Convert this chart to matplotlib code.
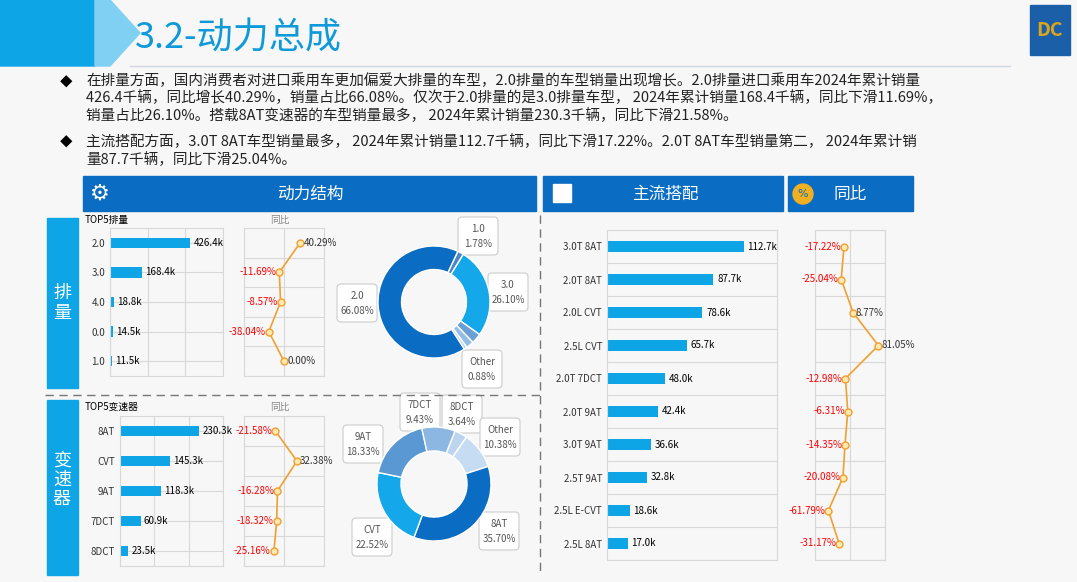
import matplotlib
matplotlib.use("Agg")
import matplotlib.pyplot as plt
from matplotlib import font_manager as fm
from matplotlib.patches import Rectangle, Polygon, FancyBboxPatch
import numpy as np

cjk = "Noto Sans CJK SC"
for f in fm.findSystemFonts():
    if "CJK" in f or "cjk" in f.lower():
        try:
            fm.fontManager.addfont(f)
        except Exception:
            pass
names = {f.name for f in fm.fontManager.ttflist}
for cand in ["Noto Sans CJK SC", "Noto Sans CJK JP", "Noto Sans CJK TC", "Noto Sans CJK KR"]:
    if cand in names:
        cjk = cand
        break
plt.rcParams["font.family"] = [cjk, "DejaVu Sans"]

disp_cats = ["2.0", "3.0", "4.0", "0.0", "1.0"]
disp_vals = [426.4, 168.4, 18.8, 14.5, 11.5]
disp_yoy = [40.29, -11.69, -8.57, -38.04, 0.00]
disp_pie_labels = ["1.0", "3.0", "4.0", "0.0", "Other", "2.0"]
disp_pie_vals = [1.78, 26.10, 2.91, 2.25, 0.88, 66.08]

tr_cats = ["8AT", "CVT", "9AT", "7DCT", "8DCT"]
tr_vals = [230.3, 145.3, 118.3, 60.9, 23.5]
tr_yoy = [-21.58, 32.38, -16.28, -18.32, -25.16]
tr_pie_labels = ["8DCT", "Other", "8AT", "CVT", "9AT", "7DCT"]
tr_pie_vals = [3.64, 10.38, 35.70, 22.52, 18.33, 9.43]

main_cats = ["3.0T 8AT", "2.0T 8AT", "2.0L CVT", "2.5L CVT", "2.0T 7DCT", "2.0T 9AT",
             "3.0T 9AT", "2.5T 9AT", "2.5L E-CVT", "2.5L 8AT"]
main_vals = [112.7, 87.7, 78.6, 65.7, 48.0, 42.4, 36.6, 32.8, 18.6, 17.0]
main_yoy = [-17.22, -25.04, 8.77, 81.05, -12.98, -6.31, -14.35, -20.08, -61.79, -31.17]

W, H = 1077, 582
fig = plt.figure(figsize=(W/100, H/100), dpi=100)
fig.patch.set_facecolor("#f7f7f8")
bg = fig.add_axes([0, 0, 1, 1]); bg.set_xlim(0, W); bg.set_ylim(H, 0); bg.axis("off")

BLUE = "#0a6cc2"; CYAN = "#0ea5e6"; ORANGE = "#f0a030"

bg.add_patch(Polygon([[0, 0], [95, 0], [125, 33], [95, 66], [0, 66]], color="#0ea5e6"))
bg.add_patch(Polygon([[95, 0], [110, 0], [140, 33], [110, 66], [95, 66]], color="#7fd0f2"))
bg.text(135, 38, "3.2-动力总成", fontsize=26, color="#0e9ad8", va="center")
bg.plot([130, 1010], [66, 66], color="#cfd8e0", lw=1)
bg.add_patch(Rectangle((1030, 5), 40, 50, color="#1b5fa8"))
bg.text(1050, 30, "DC", color="#d9a520", fontsize=14, ha="center", va="center", weight="bold")

txt1 = ("在排量方面，国内消费者对进口乘用车更加偏爱大排量的车型，2.0排量的车型销量出现增长。2.0排量进口乘用车2024年累计销量\n"
        "426.4千辆，同比增长40.29%，销量占比66.08%。仅次于2.0排量的是3.0排量车型， 2024年累计销量168.4千辆，同比下滑11.69%，\n"
        "销量占比26.10%。搭载8AT变速器的车型销量最多， 2024年累计销量230.3千辆，同比下滑21.58%。")
txt2 = ("主流搭配方面，3.0T 8AT车型销量最多， 2024年累计销量112.7千辆，同比下滑17.22%。2.0T 8AT车型销量第二， 2024年累计销\n"
        "量87.7千辆，同比下滑25.04%。")
bg.text(60, 83, "◆", fontsize=9, va="center"); bg.text(60, 143, "◆", fontsize=9, va="center")
bg.text(86, 73, txt1, fontsize=10.5, va="top", linespacing=1.25, color="#222")
bg.text(86, 134, txt2, fontsize=10.5, va="top", linespacing=1.25, color="#222")

bg.add_patch(Rectangle((83, 176), 453, 35, color=BLUE))
bg.text(310, 194, "动力结构", color="white", fontsize=12, ha="center", va="center")
bg.text(100, 194, "⚙", color="white", fontsize=16, ha="center", va="center", family="DejaVu Sans")
bg.add_patch(Rectangle((543, 176), 240, 35, color=BLUE))
bg.text(665, 194, "主流搭配", color="white", fontsize=12, ha="center", va="center")
bg.add_patch(Rectangle((553, 184), 18, 18, color="white"))
bg.add_patch(Rectangle((788, 176), 125, 35, color=BLUE))
bg.text(850, 194, "同比", color="white", fontsize=12, ha="center", va="center")
bg.add_patch(plt.Circle((803, 194), 10, color="#f0b020"))
bg.text(803, 194, "%", color=BLUE, fontsize=8, ha="center", va="center", family="DejaVu Sans")

bg.add_patch(Rectangle((47, 218), 31, 170, color=CYAN))
bg.text(62, 303, "排\n量", color="white", fontsize=13, ha="center", va="center", linespacing=1.1)
bg.add_patch(Rectangle((47, 400), 31, 175, color=CYAN))
bg.text(62, 480, "变\n速\n器", color="white", fontsize=13, ha="center", va="center", linespacing=1.1)
bg.plot([45, 540], [395, 395], color="#777", lw=1, ls=(0, (6, 4)))
bg.plot([540, 540], [215, 575], color="#777", lw=1, ls=(0, (6, 4)))
bg.text(85, 220, "TOP5排量", fontsize=7, va="center")
bg.text(85, 407, "TOP5变速器", fontsize=7, va="center")
bg.text(270, 220, "同比", fontsize=7, va="center", color="#888")
bg.text(270, 407, "同比", fontsize=7, va="center", color="#888")

def px(x0, y0, w, h):
    return fig.add_axes([x0/W, 1-(y0+h)/H, w/W, h/H])

def barpanel(rect, cats, vals, xmax, ngrid):
    ax = px(*rect)
    y = np.arange(len(cats))
    ax.barh(y, vals, height=0.35, color=CYAN)
    for yi, v in zip(y, vals):
        ax.text(v + xmax*0.03, yi, f"{v}k", fontsize=7, va="center")
    ax.set_ylim(len(cats)-0.5, -0.5); ax.set_xlim(0, xmax)
    ax.set_yticks(y); ax.set_yticklabels(cats, fontsize=7, color="#333")
    ax.set_xticks(np.linspace(0, xmax, ngrid+1)); ax.set_xticklabels([])
    ax.tick_params(length=0)
    ax.grid(True, color="#d8d8d8", lw=0.8); ax.set_axisbelow(True)
    ax.set_facecolor("none")
    for s in ax.spines.values(): s.set_color("#d8d8d8")
    return ax

def linepanel(rect, vals, xlim):
    ax = px(*rect)
    y = np.arange(len(vals))
    ax.plot(vals, y, color=ORANGE, lw=1.2, marker="o", ms=5, mfc="#ffe9b0", mec=ORANGE)
    for yi, v in zip(y, vals):
        if v < 0:
            ax.text(v - (xlim[1]-xlim[0])*0.04, yi, f"{v:.2f}%", fontsize=7, color="red", va="center", ha="right")
        else:
            ax.text(v + (xlim[1]-xlim[0])*0.04, yi, f"{v:.2f}%", fontsize=7, color="#333", va="center", ha="left")
    ax.set_ylim(len(vals)-0.5, -0.5); ax.set_xlim(*xlim)
    ax.set_yticks(np.arange(len(vals)+1)-0.5); ax.set_yticklabels([])
    ax.set_xticks([xlim[0], 0, xlim[1]]); ax.set_xticklabels([])
    ax.tick_params(length=0)
    ax.grid(True, color="#d8d8d8", lw=0.8)
    ax.set_facecolor("none")
    for s in ax.spines.values(): s.set_color("#d8d8d8")
    return ax

barpanel((110, 228, 113, 148), disp_cats, disp_vals, 600, 3)
linepanel((244, 228, 80, 148), disp_yoy, (-100, 100))
barpanel((120, 416, 103, 150), tr_cats, tr_vals, 300, 3)
linepanel((244, 416, 80, 150), tr_yoy, (-100, 100))

ax = px(607, 230, 170, 330)
y = np.arange(len(main_cats))
ax.barh(y, main_vals, height=0.35, color=CYAN)
for yi, v in zip(y, main_vals):
    ax.text(v + 3, yi, f"{v}k", fontsize=7, va="center")
ax.set_ylim(len(main_cats)-0.5, -0.5); ax.set_xlim(0, 140)
ax.set_yticks(y); ax.set_yticklabels(main_cats, fontsize=7, color="#333")
ax.set_xticks([0, 140]); ax.set_xticklabels([])
ax.set_yticks(np.arange(len(main_cats)+1)-0.5, minor=True)
ax.grid(True, which="minor", axis="y", color="#d8d8d8", lw=0.8)
ax.tick_params(length=0, which="both")
ax.set_facecolor("none")
for s in ax.spines.values(): s.set_color("#d8d8d8")
linepanel((815, 230, 70, 330), main_yoy, (-100, 100))

def donut(cx, cy, r, vals, colors, start):
    ax = px(cx - r*1.05, cy - r*1.05, 2.1*r, 2.1*r)
    ax.pie(vals, colors=colors, startangle=start, counterclock=False,
           wedgeprops=dict(width=0.42, edgecolor="white", linewidth=1))
    ax.set_aspect("equal"); ax.set_xlim(-1.05, 1.05); ax.set_ylim(-1.05, 1.05)
    return ax

def label_box(x, y, t1, t2):
    bg.add_patch(FancyBboxPatch((x-18, y-17), 36, 34, boxstyle="round,pad=2,rounding_size=4",
                                fc="white", ec="#cccccc", lw=0.8))
    bg.text(x, y-7, t1, fontsize=7, ha="center", va="center", color="#555")
    bg.text(x, y+8, t2, fontsize=7, ha="center", va="center", color="#555")

c1 = ["#4f86c6", "#14a8ea", "#6a9fd4", "#94bde4", "#b8d3ee", "#0a6cc2"]
donut(434, 302, 56, disp_pie_vals, c1, 90 - 360*0.07)
for (x, yy, a, b) in [(478, 236, "1.0", "1.78%"), (508, 292, "3.0", "26.10%"),
                      (357, 303, "2.0", "66.08%"), (482, 369, "Other", "0.88%")]:
    label_box(x, yy, a, b)

c2 = ["#bcd4ee", "#c6dcf2", "#0a6cc2", "#14a8ea", "#5a98d4", "#8cb7e2"]
donut(434, 484, 57, tr_pie_vals, c2, 90 - 360*0.06)
for (x, yy, a, b) in [(420, 412, "7DCT", "9.43%"), (462, 414, "8DCT", "3.64%"),
                      (500, 437, "Other", "10.38%"), (363, 444, "9AT", "18.33%"),
                      (372, 537, "CVT", "22.52%"), (499, 531, "8AT", "35.70%")]:
    label_box(x, yy, a, b)

fig.savefig("out.png", dpi=100, facecolor=fig.get_facecolor())
